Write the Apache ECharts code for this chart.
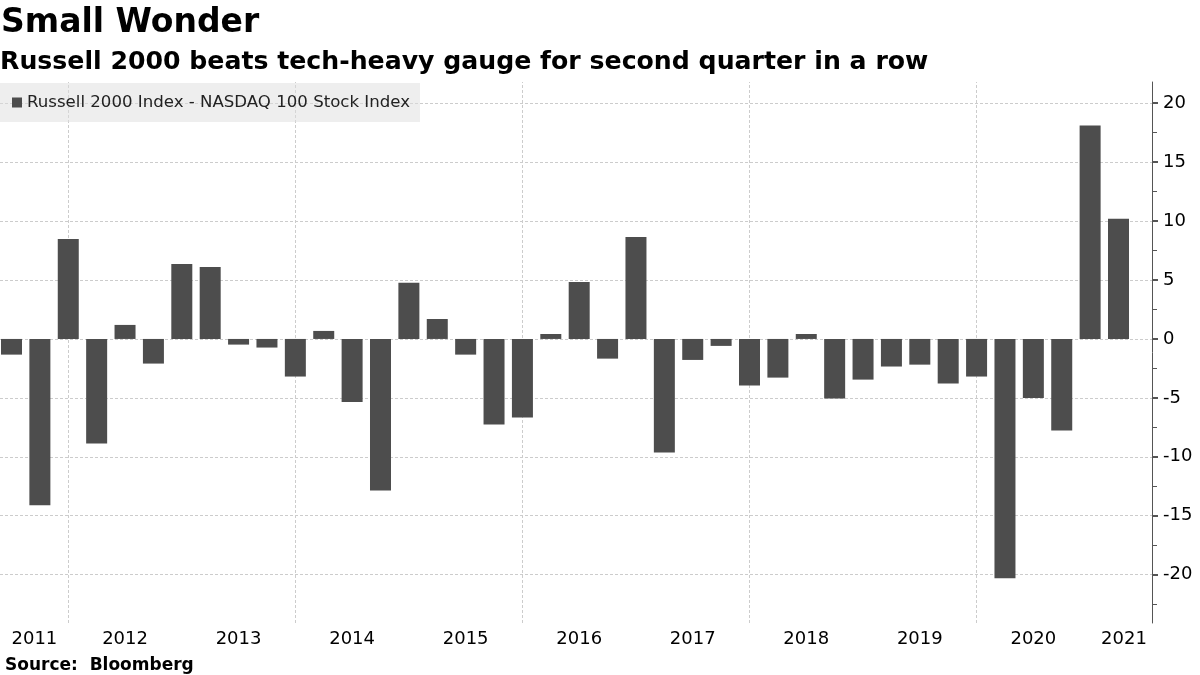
<!DOCTYPE html>
<html>
<head>
<meta charset="utf-8">
<script src="https://cdn.jsdelivr.net/npm/echarts@6/dist/echarts.min.js"></script>
<style>
  html, body { margin: 0; padding: 0; background: #fff; }
  #chart { width: 1200px; height: 675px; }
</style>
</head>
<body>
<div id="chart"></div>
<script>
// ---- Data ----
const quarters = [
  '2011 Q2','2011 Q3','2011 Q4',
  '2012 Q1','2012 Q2','2012 Q3','2012 Q4',
  '2013 Q1','2013 Q2','2013 Q3','2013 Q4',
  '2014 Q1','2014 Q2','2014 Q3','2014 Q4',
  '2015 Q1','2015 Q2','2015 Q3','2015 Q4',
  '2016 Q1','2016 Q2','2016 Q3','2016 Q4',
  '2017 Q1','2017 Q2','2017 Q3','2017 Q4',
  '2018 Q1','2018 Q2','2018 Q3','2018 Q4',
  '2019 Q1','2019 Q2','2019 Q3','2019 Q4',
  '2020 Q1','2020 Q2','2020 Q3','2020 Q4',
  '2021 Q1'
];
const spreadValues = [
  -1.33, -14.1, 8.47,
  -8.87, 1.19, -2.09, 6.36,
  6.10, -0.48, -0.73, -3.19,
  0.68, -5.34, -12.85, 4.77,
  1.69, -1.33, -7.26, -6.67,
  0.42, 4.83, -1.67, 8.64,
  -9.63, -1.78, -0.59, -3.95,
  -3.28, 0.42, -5.06, -3.45,
  -2.34, -2.18, -3.79, -3.19,
  -20.31, -5.0, -7.77, 18.1,
  10.2
];
const yearLabels = ['2011','2012','2013','2014','2015','2016','2017','2018','2019','2020','2021'];
const dividerQuarters = ['2011 Q4','2013 Q4','2015 Q4','2017 Q4','2019 Q4'];
const yTicks = [-20, -15, -10, -5, 0, 5, 10, 15, 20];
const yMinorTicks = [-22.5, -17.5, -12.5, -7.5, -2.5, 2.5, 7.5, 12.5, 17.5];
const seriesName = 'Russell 2000 Index - NASDAQ 100 Stock Index';

// ---- Derived ----
const barData = spreadValues.map((v, i) => [i, v]);
// each year label sits on that year's second-quarter slot
const yearPos = yearLabels.map((y, i) => i * 4);
const dividerPos = dividerQuarters.map(q => quarters.indexOf(q));

const gridLine = { color: '#cccccc', width: 1, type: [3, 2] };

const chart = echarts.init(document.getElementById('chart'), null, { renderer: 'canvas' });
chart.setOption({
  animation: false,
  backgroundColor: '#fff',
  title: [
    { text: 'Small Wonder', left: 1, top: 7, padding: 0,
      textStyle: { fontFamily: 'DejaVu Sans', fontWeight: 'bold', fontSize: 33, color: '#000' } },
    { text: 'Russell 2000 beats tech-heavy gauge for second quarter in a row', left: 0, top: 50, padding: 0,
      textStyle: { fontFamily: 'DejaVu Sans', fontWeight: 'bold', fontSize: 25.2, color: '#000' } },
    { text: 'Source:  Bloomberg', left: 5, top: 657, padding: 0,
      textStyle: { fontFamily: 'DejaVu Sans', fontWeight: 'bold', fontSize: 17, color: '#000' } }
  ],
  legend: {
    data: [seriesName], left: 0, top: 83,
    padding: [11, 10, 11, 12],
    backgroundColor: 'rgba(222,222,222,0.5)',
    icon: 'rect', itemWidth: 10, itemHeight: 10,
    selectedMode: false,
    textStyle: { fontFamily: 'DejaVu Sans', fontSize: 16.6, color: '#222' }
  },
  grid: { left: 0, right: 48, top: 82, bottom: 52, containLabel: false },
  xAxis: {
    type: 'value', min: -0.405, max: 40.18,
    axisLine: { show: false, onZero: false }, axisTick: { show: false }, splitLine: { show: false },
    axisLabel: {
      customValues: yearPos,
      formatter: v => yearLabels[yearPos.indexOf(v)],
      alignMinLabel: 'left', alignMaxLabel: 'right',
      margin: 7, fontFamily: 'DejaVu Sans', fontSize: 18, color: '#000'
    }
  },
  yAxis: [
    {
      type: 'value', position: 'right', min: -24.1, max: 21.8,
      axisLine: { show: true, onZero: false, lineStyle: { color: '#555', width: 1 } },
      axisTick: { show: true, customValues: yTicks, length: 6, lineStyle: { color: '#555', width: 2 } },
      axisLabel: { customValues: yTicks, margin: 11, fontFamily: 'DejaVu Sans', fontSize: 18, color: '#000' },
      splitLine: { show: false }
    },
    {
      type: 'value', position: 'right', min: -24.1, max: 21.8,
      axisLine: { show: false, onZero: false },
      axisTick: { show: true, customValues: yMinorTicks, length: 5, lineStyle: { color: '#555', width: 1 } },
      axisLabel: { show: false },
      splitLine: { show: false }
    }
  ],
  series: [{
    name: seriesName, type: 'bar', data: barData, barWidth: 21,
    itemStyle: { color: '#4d4d4d' }, z: 3,
    markLine: {
      silent: true, symbol: 'none', z: 1, animation: false,
      label: { show: false },
      lineStyle: gridLine,
      emphasis: { disabled: true },
      data: yTicks.map(v => ({ yAxis: v })).concat(dividerPos.map(i => ({ xAxis: i })))
    }
  }]
});
</script>
</body>
</html>
